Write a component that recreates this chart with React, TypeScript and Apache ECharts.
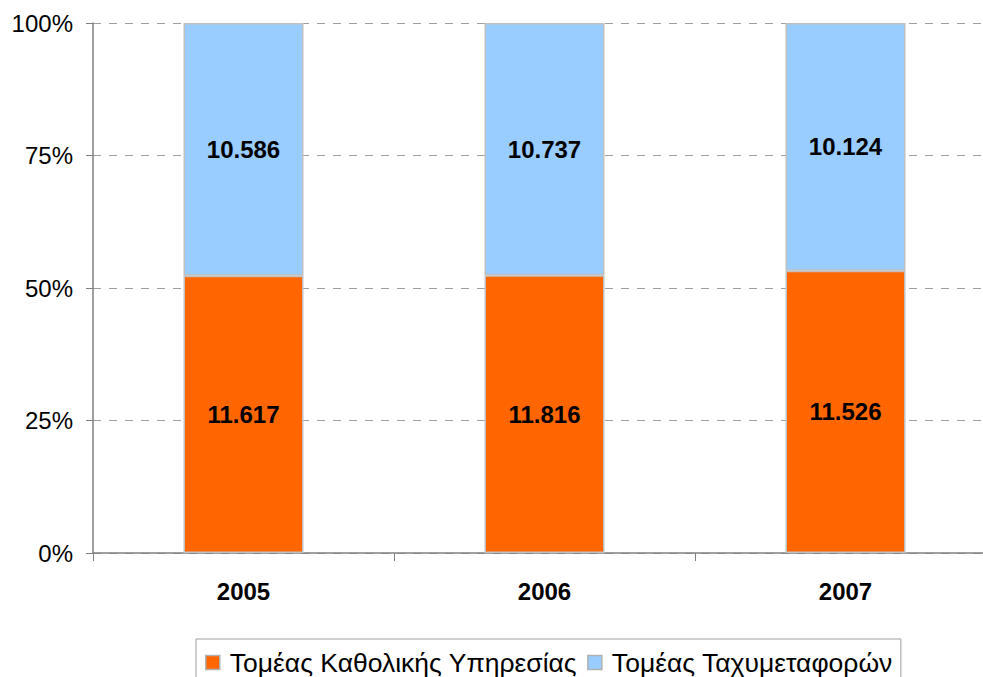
import React, { useEffect, useRef } from "react";
import * as echarts from "echarts";

const categories = ["2005", "2006", "2007"];
const universalService = [11617, 11816, 11526];
const courierService = [10586, 10737, 10124];
const seriesNames = ["Τομέας Καθολικής Υπηρεσίας", "Τομέας Ταχυμεταφορών"];
const yTicks = [0, 25, 50, 75, 100];

const fmt = (v: number) => {
  const s = String(Math.round(v));
  return s.replace(/\B(?=(\d{3})+(?!\d))/g, ".");
};

export default function App() {
  const ref = useRef<HTMLDivElement>(null);
  useEffect(() => {
    if (!ref.current) return;
    const chart = echarts.init(ref.current, undefined, { renderer: "svg" });
    const totals = categories.map((_, i) => universalService[i] + courierService[i]);
    const mk = (arr: number[]) =>
      arr.map((v, i) => ({ value: (v / totals[i]) * 100, raw: v }));
    const font = "'Liberation Sans', Arial, sans-serif";
    const labelCfg = {
      show: true,
      position: "inside" as const,
      color: "#000",
      fontWeight: "bold" as const,
      fontSize: 24,
      fontFamily: font,
      formatter: (p: any) => fmt(p.data.raw),
    };
    chart.setOption({
      animation: false,
      textStyle: { fontFamily: font },
      grid: { left: 93, top: 23, width: 903, height: 530, containLabel: false, outerBoundsMode: "none" },
      legend: {
        left: 196,
        top: 639,
        itemWidth: 14,
        itemHeight: 14,
        itemGap: 10,
        padding: [10, 8, 20, 9],
        borderColor: "#a0a0a0",
        borderWidth: 1,
        textStyle: { fontSize: 26.5, color: "#000", fontFamily: font, padding: [2, 0, 0, 5] },
        icon: "rect",
        data: seriesNames.map((n) => ({ name: n, itemStyle: { borderColor: "#b0b0b0", borderWidth: 1.5 } })),
      },
      xAxis: {
        type: "category",
        data: categories,
        axisLine: { lineStyle: { color: "#808080", width: 1.5 } },
        axisTick: { show: true, length: 8, lineStyle: { color: "#808080" } },
        axisLabel: { fontSize: 24, fontWeight: "bold", color: "#000", margin: 26, fontFamily: font },
      },
      yAxis: {
        type: "value",
        min: 0,
        max: 100,
        interval: 25,
        axisLine: { show: true, lineStyle: { color: "#808080", width: 1.5 } },
        axisTick: { show: true, length: 7, lineStyle: { color: "#808080" } },
        axisLabel: {
          fontSize: 24,
          color: "#000",
          margin: 20,
          fontFamily: font,
          formatter: (v: number) => (yTicks.includes(v) ? v + "%" : ""),
        },
        splitLine: { show: true, lineStyle: { color: "#a0a0a0", type: [8, 8], width: 1 } },
      },
      series: [
        {
          name: seriesNames[0],
          type: "bar",
          stack: "total",
          barWidth: 120,
          data: mk(universalService),
          itemStyle: { color: "#ff6600", borderColor: "#c0c0c0", borderWidth: 1.5 },
          label: labelCfg,
        },
        {
          name: seriesNames[1],
          type: "bar",
          stack: "total",
          barWidth: 120,
          data: mk(courierService),
          itemStyle: { color: "#99ccff", borderColor: "#c0c0c0", borderWidth: 1.5 },
          label: labelCfg,
        },
      ],
    });
    return () => chart.dispose();
  }, []);
  return <div ref={ref} style={{ width: 983, height: 677, position: "absolute", left: 0, top: 0 }} />;
}
